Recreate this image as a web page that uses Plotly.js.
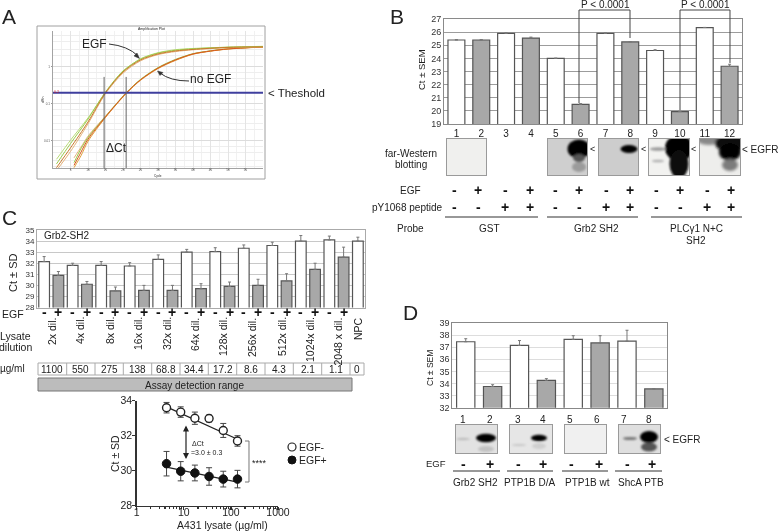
<!DOCTYPE html>
<html><head><meta charset="utf-8">
<script src="https://cdn.plot.ly/plotly-3.0.1.min.js"></script>
<style>html,body{margin:0;padding:0;background:#fff}#p{width:778px;height:532px;filter:blur(.35px)}</style></head>
<body><div id="p"></div>
<script>
// ---------- DATA ----------
// Panel A: amplification curves
const cyclesEGF=[1,5,10,15,20,25,30,35,40,50,60];
const egfA=[0.0019,0.0065,0.0326,0.2,0.73,1.54,2.24,2.7,2.97,3.37,3.47];
const egfB=[0.0024,0.0085,0.039,0.21,0.78,1.62,2.36,2.82,3.08,3.4,3.55];
const egfC=[0.0016,0.0052,0.029,0.19,0.68,1.46,2.15,2.6,2.9,3.3,3.45];
const egfD=[0.0032,0.0105,0.042,0.205,0.75,1.66,2.42,2.92,3.15,3.42,3.6];
const cyclesNo=[6,8,10,15,21,25,30,35,40,45,50,60];
const noA=[0.0022,0.005,0.0112,0.0447,0.2,0.447,0.93,1.55,2.24,2.69,3.06,3.47];
const noB=[0.0026,0.0062,0.0125,0.046,0.205,0.46,0.96,1.6,2.28,2.72,3.1,3.5];
const noC=[0.0019,0.004,0.0098,0.043,0.195,0.435,0.9,1.5,2.2,2.66,3.03,3.45];
const noD=[0.0035,0.0068,0.0135,0.047,0.2,0.45,0.94,1.52,2.25,2.7,3.08,3.48];
const thresholdA=0.2, deltaCycles=[14.6,20.9];
// Panel B
const lanesB=[1,2,3,4,5,6,7,8,9,10,11,12];
const oddLanesB=[1,3,5,7,9,11];
const evenLanesB=[2,4,6,8,10,12];
const noEgfB=[25.4,25.9,24.0,25.9,24.6,26.35];
const noEgfBerr=[0.03,0.05,0.02,0.04,0.06,0.01];
const egfBv=[25.4,25.55,20.5,25.25,19.95,23.4];
const egfBerr=[0.03,0.07,0.05,0.03,0.03,0.15];
const egfSignsB=['-','+','-','+','-','+','-','+','-','+','-','+'];
const pepSignsB=['-','-','+','+','-','-','+','+','-','-','+','+'];
// Panel C bars
const dilLabels=['2x dil.','4x dil.','8x dil.','16x dil.','32x dil.','64x dil.','128x dil.','256x dil.','512x dil.','1024x dil.','2048 x dil.','NPC'];
const concLabels=['1100','550','275','138','68.8','34.4','17.2','8.6','4.3','2.1','1.1','0'];
const noEgfC=[32.15,31.8,31.8,31.75,32.35,33.0,33.05,33.35,33.6,34.0,34.1,34.0];
const noEgfCerr=[0.45,0.2,0.35,0.3,0.4,0.25,0.35,0.3,0.3,0.5,0.35,0.35];
const egfC2=[30.9,30.1,29.5,29.55,29.55,29.7,29.9,30.0,30.4,31.45,32.55];
const egfC2err=[0.35,0.25,0.35,0.45,0.45,0.45,0.4,0.55,0.65,0.55,0.9];
// Panel C dose curve
const lysate=[4.3,8.6,17.2,34.4,68.8,138];
const ctMinus=[33.6,33.35,33.0,32.98,32.3,31.7];
const ctMinusErr=[0.3,0.3,0.35,0.2,0.4,0.3];
const ctPlus=[30.4,29.97,29.87,29.67,29.52,29.52];
const ctPlusErr=[0.7,0.55,0.45,0.5,0.45,0.5];
const fitX=[4.3,138], fitMinus=[33.65,31.8], fitPlus=[30.2,29.35];
// Panel D
const oddLanesD=[1,3,5,7], evenLanesD=[2,4,6,8];
const noEgfD=[37.45,37.15,37.65,37.5];
const noEgfDerr=[0.25,0.4,0.3,0.9];
const egfD2=[33.75,34.25,37.35,33.55];
const egfD2err=[0.15,0.15,0.6,0.02];
const laneLabelXD=[463,490,518,543,570,597,624,649];
const probesD=['Grb2 SH2','PTP1B D/A','PTP1B wt','ShcA PTB'];

// ---------- HELPERS ----------
const W=778,H=532,FF='"Liberation Sans",Arial,sans-serif',TXT='#222';
const fx=v=>v/W, fy=v=>1-v/H;
const dx=(a,b)=>[a/W,b/W], dy=(top,bot)=>[1-bot/H,1-top/H];
const ann=[],shp=[],img=[];
function T(x,y,text,size,o){ann.push(Object.assign({xref:'paper',yref:'paper',x:fx(x),y:fy(y),text,showarrow:false,
  font:{family:FF,size:size||10,color:TXT},xanchor:'center',yanchor:'middle',borderpad:0,borderwidth:0},o||{}));}
function L(x0,y0,x1,y1,c,w){shp.push({type:'line',xref:'paper',yref:'paper',x0:fx(x0),x1:fx(x1),y0:fy(y0),y1:fy(y1),line:{color:c||'#333',width:w||1}});}
function R(x0,y0,x1,y1,fill,c,w){shp.push({type:'rect',xref:'paper',yref:'paper',x0:fx(x0),x1:fx(x1),y0:fy(y0),y1:fy(y1),fillcolor:fill||'rgba(0,0,0,0)',line:{color:c||'#555',width:w===undefined?1:w}});}
function P(pts,c,w,fill){
  const s=pts.map(p=>{if(p.length==1)return p[0];return fx(p[0]).toFixed(5)+' '+fy(p[1]).toFixed(5);}).join(' ');
  shp.push({type:'path',xref:'paper',yref:'paper',path:s,line:{color:c||'#333',width:w||1},fillcolor:fill||'rgba(0,0,0,0)'});}
function blot(x0,y0,x1,y1,bg,body,blur){
  const w=x1-x0,h=y1-y0;
  const svg=`<svg xmlns="http://www.w3.org/2000/svg" width="${w*3}" height="${h*3}" viewBox="0 0 ${w} ${h}"><defs><filter id="b" x="-30%" y="-30%" width="160%" height="160%"><feGaussianBlur stdDeviation="${blur||1.1}"/></filter><clipPath id="c"><rect width="${w}" height="${h}"/></clipPath></defs><rect width="${w}" height="${h}" fill="${bg}"/><g clip-path="url(#c)"><g filter="url(#b)">${body}</g></g><rect x=".5" y=".5" width="${w-1}" height="${h-1}" fill="none" stroke="#9a9a9a"/></svg>`;
  img.push({source:'data:image/svg+xml;charset=utf-8,'+encodeURIComponent(svg),xref:'paper',yref:'paper',x:fx(x0),y:fy(y0),sizex:w/W,sizey:h/H,xanchor:'left',yanchor:'top',sizing:'stretch',layer:'above'});
}
const E=(cx,cy,rx,ry,f)=>`<ellipse cx="${cx}" cy="${cy}" rx="${rx}" ry="${ry}" fill="${f}"/>`;
const SIGN=(x,y,s)=>T(x,y,s,14,{font:{family:FF,size:14,color:'#111',weight:'bold'}});

function barTrace(x,y,e,fill,xa,ya,width,name,lc){
  return {type:'bar',x,y,name,xaxis:xa,yaxis:ya,width,marker:{color:fill,line:{color:lc||'#555',width:1.2}},
    error_y:{type:'data',array:e,symmetric:false,arrayminus:e.map(()=>0),color:'#777',thickness:1,width:1.5},hoverinfo:'x+y'};
}
const FILLG='#a8a8a8';
const traces=[];

// ---------- PANEL A ----------
const A='#a3a3a3';
[[noD,'#e5b27a'],[noB,'#9ccc4e'],[noC,'#e0a13c'],[noA,'#d8541e']].forEach((c,i)=>traces.push({type:'scatter',mode:'lines',x:cyclesNo,y:c[0],xaxis:'x',yaxis:'y',name:'no EGF '+(i+1),
  line:{color:c[1],width:1,shape:'spline',smoothing:0.8}}));
[[egfD,'#b9dc78'],[egfC,'#e5b27a'],[egfB,'#9ccc4e'],[egfA,'#c9792c']].forEach((c,i)=>traces.push({type:'scatter',mode:'lines',x:cyclesEGF,y:c[0],xaxis:'x',yaxis:'y',name:'EGF '+(i+1),
  line:{color:c[1],width:1,shape:'spline',smoothing:0.8}}));
traces.push({type:'scatter',mode:'lines',x:[0,60],y:[thresholdA,thresholdA],xaxis:'x',yaxis:'y',name:'Threshold',line:{color:'#3f3f9e',width:2}});
deltaCycles.forEach((c,i)=>traces.push({type:'scatter',mode:'lines',x:[c,c],y:[0.537,0.00166],xaxis:'x',yaxis:'y',name:'Ct '+(i+1),cliponaxis:false,line:{color:'#666',width:1}}));
R(37,26,265,179,'rgba(0,0,0,0)','#a0a0a0',1);
T(151,28.5,'Amplification Plot',3.5);
T(43,100,'dRn',3.5,{textangle:-90});
T(158,175.5,'Cycle',3);
T(94,44,'EGF',12);
T(210,79,'no EGF',12);
T(268,92.5,'&lt; Theshold',11.5,{xanchor:'left'});
T(116,148,'ΔCt',12);
T(56,91.5,'0.2',3.5,{font:{family:FF,size:3.5,color:'#d22'}});
P([['M'],[109,44],['Q'],[128,46],[138,56]],'#333',1);
P([['M'],[139.5,58.5],['L'],[134,56],['L'],[137,53],['Z']],'#333',.5,'#333');
P([['M'],[189,81],['Q'],[170,81],[160,73]],'#333',1);
P([['M'],[157.5,71],['L'],[163,72.5],['L'],[160,75.5],['Z']],'#333',.5,'#333');

// ---------- PANEL B ----------
traces.push(barTrace(oddLanesB,noEgfB,noEgfBerr,'#fff','x2','y2',0.68,'EGF- (B)'));
traces.push(barTrace(evenLanesB,egfBv,egfBerr,FILLG,'x2','y2',0.68,'EGF+ (B)'));
T(422,70,'Ct ± SEM',9.5,{textangle:-90});
T(605,4,'P &lt; 0.0001',10);T(705.5,4,'P &lt; 0.0001',10);
P([['M'],[579,103],['L'],[579,10],['L'],[630,10],['L'],[630,38]],'#444',1);
P([['M'],[680,110],['L'],[680,10],['L'],[730,10],['L'],[730,63]],'#444',1);
T(411,153,'far-Western',10);T(411,164,'blotting',10);
T(411,190,'EGF',10);T(443,207,'pY1068 peptide',10,{xanchor:'right'});T(411,228,'Probe',10);
const signXB=[455,478,505,530,555,579,606,630,656,680,707,731];
signXB.forEach((x,i)=>{SIGN(x,190,egfSignsB[i]);SIGN(x,207,pepSignsB[i]);});
L(445,217,538,217,'#333',1.2);L(547,217,638,217,'#333',1.2);L(651,217,742,217,'#333',1.2);
T(489,228,'GST',10);T(596,228,'Grb2 SH2',10);T(696,228,'PLCγ1 N+C',10);T(696,240,'SH2',10);
T(592,149,'&lt;',9);T(643,149,'&lt;',9);T(693,149,'&lt;',9);T(742,149,'&lt; EGFR',10,{xanchor:'left'});
blot(446,138,487,176,'#f0f0ee','',1);
blot(547,138,588,176,'#cfcfcf',E(32,11,11.5,9.5,'#000')+E(32,29,7,5,'#9b9b9b')+E(32,20,6,4,'#555'));
blot(598,138,639,176,'#cdcdcd',E(31,11,8.5,4,'#000'));
blot(648,138,690,176,'#f2f2f0',E(31,10,14,13,'#000')+E(31,26,9.5,14,'#0a0a0a')+E(10,11,8,1.8,'#9a9a9a')+E(10,23,6,1.3,'#b0b0b0'));
blot(699,138,741,176,'#eeeeec',E(10,-1,14,8,'#888')+E(31,5,15,9,'#111')+E(31,14,11,9,'#000')+E(31,27,8,6,'#7c7c7c'),1.5);

// ---------- PANEL C bars ----------
const cWhiteX=dilLabels.map((_,i)=>2*i+1), cGrayX=egfC2.map((_,i)=>2*i+2);
traces.push(barTrace(cWhiteX,noEgfC,noEgfCerr,'#fff','x3','y3',0.75,'EGF- (C)'));
traces.push(barTrace(cGrayX,egfC2,egfC2err,FILLG,'x3','y3',0.75,'EGF+ (C)'));
T(44,236,'Grb2-SH2',10,{xanchor:'left'});
T(13,273,'Ct ± SD',11,{textangle:-90});
T(13,314,'EGF',10.5);T(15,336,'Lysate',10.5);T(16,347,'dilution',10.5);T(13,368,'µg/ml',10);
const cw=(365-37)/23;
for(let i=1;i<23;i++){ SIGN(37+(i-.5)*cw,312,i%2?'-':'+'); }
const dilX=[52,80,110,138,167,195,223,252,282,310,337,358];
dilLabels.forEach((d,i)=>T(dilX[i],317.5,d,10.5,{textangle:-90,yanchor:'top'}));
const cellX=[38,66.7,95,123.3,151.7,180,208.3,236.7,265,293.3,321.7,350,364];
R(38,363,364,375,'#fff','#aaa',1);
cellX.slice(1,-1).forEach(x=>L(x,363,x,375,'#aaa',1));
concLabels.forEach((c,i)=>T((cellX[i]+cellX[i+1])/2,369,c,10));
R(38,378,352,391,'#bcbcbc','#777',1);
T(195,385,'Assay detection range',10);

// ---------- PANEL C dose ----------
traces.push({type:'scatter',mode:'lines',x:fitX,y:fitMinus,xaxis:'x4',yaxis:'y4',name:'fit EGF-',line:{color:'#222',width:1.2}});
traces.push({type:'scatter',mode:'lines',x:fitX,y:fitPlus,xaxis:'x4',yaxis:'y4',name:'fit EGF+',line:{color:'#222',width:1.2}});
traces.push({type:'scatter',mode:'markers',x:lysate,y:ctMinus,xaxis:'x4',yaxis:'y4',name:'EGF-',
  error_y:{type:'data',array:ctMinusErr,color:'#444',thickness:1,width:3},marker:{size:8,color:'#fff',line:{color:'#222',width:1.4}}});
traces.push({type:'scatter',mode:'markers',x:lysate,y:ctPlus,xaxis:'x4',yaxis:'y4',name:'EGF+',
  error_y:{type:'data',array:ctPlusErr,color:'#444',thickness:1,width:3},marker:{size:8.5,color:'#111',line:{color:'#111',width:1}}});
ann.push({xref:'paper',yref:'paper',axref:'pixel',ayref:'pixel',x:fx(186),y:fy(425.5),ax:0,ay:35,text:'',showarrow:true,arrowhead:2,arrowside:'end+start',arrowsize:1,arrowwidth:1.2,arrowcolor:'#222',standoff:0,startstandoff:0});
T(192,443,'ΔCt',7,{xanchor:'left'});T(191,452,'=3.0 ± 0.3',7,{xanchor:'left'});
P([['M'],[245,441],['L'],[249,441],['L'],[249,482],['L'],[245,482]],'#777',1);
T(259,463,'****',9);
shp.push({type:'circle',xref:'paper',yref:'paper',x0:fx(288),x1:fx(296),y0:fy(451),y1:fy(443),fillcolor:'#fff',line:{color:'#222',width:1.2}});
shp.push({type:'circle',xref:'paper',yref:'paper',x0:fx(288),x1:fx(296),y0:fy(464),y1:fy(456),fillcolor:'#111',line:{color:'#111',width:1}});
T(299,447,'EGF-',10.5,{xanchor:'left'});T(299,460,'EGF+',10.5,{xanchor:'left'});
T(115,453,'Ct ± SD',10.5,{textangle:-90});
T(222,525,'A431 lysate (µg/ml)',10.5);

// ---------- PANEL D ----------
traces.push(barTrace(oddLanesD,noEgfD,noEgfDerr,'#fff','x5','y5',0.68,'EGF- (D)'));
traces.push(barTrace(evenLanesD,egfD2,egfD2err,FILLG,'x5','y5',0.68,'EGF+ (D)'));
T(430,368,'Ct ± SEM',8.5,{textangle:-90});
laneLabelXD.forEach((x,i)=>T(x,419,String(i+1),10));
T(436,463,'EGF',9.5);
[463,490,518,543,571,599,627,652].forEach((x,i)=>SIGN(x,464,i%2?'+':'-'));
[[453,500],[507,553],[562,608],[615,662]].forEach(s=>L(s[0],471,s[1],471,'#333',1.2));
[475,529,587,641].forEach((x,i)=>T(x,482,probesD[i],10));
T(664,439,'&lt; EGFR',10,{xanchor:'left'});
blot(455,424,498,454,'#e2e2e2',E(31,14,10,4.2,'#000')+E(31,25,8,3,'#c2c2c2')+E(8,15,7,1.2,'#bbb'),0.9);
blot(509,424,553,454,'#e6e6e6',E(30,14,8,3.2,'#000')+E(30,22,7,3,'#cfcfcf')+E(10,21,7,1,'#c6c6c6'),0.9);
blot(564,424,607,454,'#f0f0f0','',1);
blot(618,424,661,454,'#dfdfdf',E(12,14.5,7,1.6,'#777')+E(31,13,9,6,'#000')+E(31,23,8,4.5,'#555'),0.9);

// ---------- PANEL LABELS ----------
T(9,17,'A',21);T(397,17,'B',21);T(9,217,'C',21);T(411,312,'D',21);

// ---------- LAYOUT ----------
const baseTick={family:FF,size:9,color:'#333'};
const layout={width:W,height:H,margin:{l:0,r:0,t:0,b:0,pad:0},paper_bgcolor:'#fff',plot_bgcolor:'rgba(0,0,0,0)',showlegend:false,barmode:'overlay',
 annotations:ann,shapes:shp,images:img,
 // A
 xaxis:{domain:dx(53,263),range:[0,60],anchor:'y',tickmode:'array',tickvals:[5,10,15,20,25,30,35,40,45,50,55],ticks:'outside',ticklen:1,tickcolor:'#999',ticklabelstandoff:-3,tickfont:{family:FF,size:3,color:'#555'},showgrid:true,gridcolor:'#e4e4e4',gridwidth:1,linecolor:A,showline:true,zeroline:false,minor:{dtick:2.5,showgrid:true,gridcolor:'#f1f1f1'}},
 yaxis:{domain:dy(31,168),type:'log',range:[-2.73,0.97],anchor:'x',tickmode:'array',tickvals:[0.01,0.1,1],ticktext:['0.01','0.1','1'],ticks:'outside',ticklen:1.5,tickcolor:'#999',tickfont:{family:FF,size:3,color:'#555'},showgrid:true,gridcolor:'#dcdcdc',linecolor:A,showline:true,zeroline:false,minor:{tickvals:[0.002,0.003,0.005,0.007,0.02,0.03,0.05,0.07,0.2,0.3,0.5,0.7,2,3,5,7],showgrid:true,gridcolor:'#eeeeee'}},
 // B
 xaxis2:{domain:dx(444,742),range:[0.5,12.5],anchor:'y2',tickmode:'array',tickvals:lanesB,ticks:'',tickfont:{family:FF,size:10,color:'#222'},showgrid:false,showline:true,mirror:true,linecolor:'#8a8a8a',zeroline:false},
 yaxis2:{domain:dy(19,124),range:[19,27],anchor:'x2',dtick:1,ticks:'',tickfont:baseTick,showgrid:true,gridcolor:'#9c9c9c',gridwidth:1,showline:true,mirror:true,linecolor:'#8a8a8a',zeroline:false},
 // C bars
 xaxis3:{domain:dx(37,365),range:[0.5,23.5],anchor:'y3',showticklabels:false,ticks:'',showgrid:false,showline:true,mirror:true,linecolor:'#aaa',zeroline:false},
 yaxis3:{domain:dy(230,307.5),range:[28,35],anchor:'x3',dtick:1,ticks:'',tickfont:{family:FF,size:8,color:'#333'},showgrid:true,gridcolor:'#c8c8c8',showline:true,mirror:true,linecolor:'#aaa',zeroline:false},
 // C dose
 xaxis4:{domain:dx(136.7,278),type:'log',range:[0,3],anchor:'y4',tickmode:'array',tickvals:[1,10,100,1000],ticktext:['1','10','100','1000'],ticks:'outside',ticklen:3,tickwidth:1.2,tickcolor:'#333',ticklabelstandoff:-7,tickfont:{family:FF,size:10.5,color:'#222'},showgrid:false,showline:true,linecolor:'#333',linewidth:1.5,zeroline:false,minor:{ticks:'outside',ticklen:2,tickcolor:'#333',tickvals:[2,3,4,5,6,7,8,9,20,30,40,50,60,70,80,90,200,300,400,500,600,700,800,900]}},
 yaxis4:{domain:dy(400.7,505.7),range:[28,34],anchor:'x4',tickvals:[28,30,32,34],ticks:'outside',ticklen:3,tickwidth:1.2,tickcolor:'#333',ticklabelstandoff:-2,tickfont:{family:FF,size:10.5,color:'#222'},showgrid:false,showline:true,linecolor:'#333',linewidth:1.5,zeroline:false},
 // D
 xaxis5:{domain:dx(452.3,667.3),range:[0.5,8.5],anchor:'y5',showticklabels:false,ticks:'',showgrid:false,showline:true,mirror:true,linecolor:'#888',zeroline:false},
 yaxis5:{domain:dy(323,407.7),range:[32,39],anchor:'x5',dtick:1,ticks:'',tickfont:baseTick,showgrid:true,gridcolor:'#dddddd',showline:true,mirror:true,linecolor:'#888',zeroline:false}
};
Plotly.newPlot('p',traces,layout,{staticPlot:true,displayModeBar:false});
</script></body></html>
